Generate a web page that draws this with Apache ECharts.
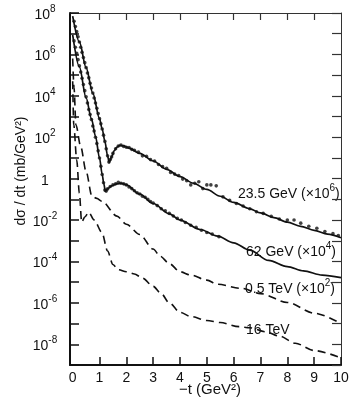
<!DOCTYPE html>
<html>
<head>
<meta charset="utf-8">
<script src="https://cdn.jsdelivr.net/npm/echarts@6/dist/echarts.min.js"></script>
<style>
html,body{margin:0;padding:0;background:#fff;}
#chart{width:353px;height:401px;}
</style>
</head>
<body>
<div id="chart"></div>
<script>
// ---- data (t in GeV^2, dσ/dt in mb/GeV^2 with scale factors) ----
const fit235T = [0,0.25,0.5,0.75,1.0,1.1,1.2,1.3,1.36,1.45,1.55,1.65,1.75,1.9,2.1,2.5,3.0,3.5,4.0,4.5,5.0,5.5,6.0,6.6,7.0,7.5,8.0,8.5,9.0,9.5,10];
const fit235V = [7.1e7,4.0e6,2.3e5,1.35e4,7.9e2,2.5e2,63,12.6,6.0,11.2,22.4,33,40,38,30,16.6,7.1,2.8,1.26,0.60,0.30,0.141,0.071,0.035,0.022,0.0132,0.0079,0.005,0.0032,0.0021,0.0014];

const fit62T = [0,0.25,0.5,0.7,0.85,1.0,1.1,1.16,1.22,1.3,1.45,1.65,1.8,2.0,2.5,3.0,3.6,4.0,4.75,5.4,6.0,6.6,7.3,8.0,8.6,9.3,10];
const fit62V = [8.9e6,2.5e5,7.9e3,7.9e2,1.12e2,10,1.58,0.56,0.245,0.32,0.45,0.56,0.60,0.50,0.178,0.063,0.020,0.010,0.0035,0.00166,7.9e-4,3.5e-4,1.12e-4,5.6e-5,3.5e-5,2.2e-5,1.66e-5];

const tev05T = [0,0.05,0.12,0.3,0.5,0.72,0.9,1.09,1.65,2.0,2.5,3.0,3.26,3.6,4.0,4.4,5.0,5.4,6.3,7.0,8.0,9.0,10];
const tev05V = [6.3e5,2.5e4,4.0e2,35,2.2,0.138,0.112,0.081,0.0155,0.0063,0.0020,4.0e-4,1.8e-4,7.9e-5,3.2e-5,2.2e-5,1.26e-5,7.9e-6,5.0e-6,2.8e-6,1.05e-6,3.2e-7,1.0e-7];

const tev16T = [0,0.04,0.15,0.25,0.335,0.45,0.6,0.8,1.09,1.3,1.5,1.7,2.0,2.3,2.6,3.0,3.3,3.6,4.0,4.4,5.0,5.5,6.2,6.6,7.2,7.7,8.3,9.0,10];
const tev16V = [5.0e4,4.0e2,7.9,0.2,0.0079,0.0141,0.024,0.010,0.0025,3.2e-4,7.1e-5,4.0e-5,3.2e-5,2.5e-5,1.58e-5,6.3e-6,2.8e-6,1.0e-6,3.5e-7,2.2e-7,1.41e-7,1.12e-7,7.1e-8,6.3e-8,4.0e-8,2.5e-8,1.12e-8,5.0e-9,2.2e-9];

const dots235T = [0.05,0.1,0.15,0.2,0.25,0.3,0.35,0.4,0.45,0.5,0.55,0.6,0.65,0.7,0.75,0.8,0.85,0.9,0.95,1.0,1.05,1.1,1.15,1.2,1.25,1.3,1.35,1.4,1.45,1.5,1.6,1.7,1.8,1.9,2.0,2.1,2.2,2.3,2.45,2.6,2.75,2.9,3.05,3.2,3.35,3.5,3.65,3.8,3.95,4.1,4.25,4.4,4.55,4.7,4.85,5.0,5.15,5.35,5.6,5.85,6.1,6.35,6.6,6.85,7.1,7.4,7.7,8.0,8.25,8.5,8.8,9.1,9.4,9.7,9.9];
const dots235V = [4.0e7,2.2e7,1.26e7,7.1e6,4.0e6,2.2e6,1.26e6,7.1e5,4.0e5,2.3e5,1.26e5,7.4e4,4.0e4,2.4e4,1.35e4,7.9e3,4.5e3,2.5e3,1.41e3,7.9e2,4.5e2,2.5e2,1.26e2,63,28,12.6,6.3,8.3,11.2,16.6,28,38,42,36,33,32,26,23.4,19,12.6,12,8.3,7.1,4.8,3.8,3.16,2.0,1.66,1.41,0.95,0.79,0.5,0.6,0.71,0.33,0.5,0.5,0.45,0.132,0.089,0.063,0.048,0.035,0.025,0.021,0.0151,0.0112,0.010,0.010,0.0071,0.005,0.004,0.0028,0.0022,0.0018];

const dots62T = [0.05,0.1,0.15,0.2,0.25,0.3,0.35,0.4,0.45,0.5,0.55,0.6,0.65,0.7,0.75,0.8,0.85,0.9,0.95,1.0,1.05,1.1,1.15,1.2,1.25,1.3,1.4,1.5,1.6,1.7,1.8,1.9,2.0,2.1,2.2,2.3,2.4,2.5,2.6,2.7,2.8,2.9,3.0,3.15,3.3,3.45,3.6,3.75,3.9,4.05,4.2,4.4,4.6,4.8,5.0,5.2,5.45];
const dots62V = [4.5e6,2.2e6,1.12e6,5.6e5,2.8e5,1.41e5,7.1e4,3.5e4,1.78e4,8.9e3,4.5e3,2.2e3,1.26e3,7.1e2,3.5e2,2.0e2,1.0e2,50,22,10,4.0,1.58,0.63,0.28,0.25,0.32,0.42,0.5,0.56,0.66,0.6,0.56,0.5,0.4,0.33,0.26,0.21,0.18,0.141,0.126,0.10,0.079,0.066,0.05,0.035,0.028,0.021,0.0158,0.012,0.010,0.0076,0.0056,0.0045,0.0032,0.0025,0.0021,0.00158];

const xTicks = [0,1,2,3,4,5,6,7,8,9,10];
const yTickDecades = [1e-9,1e-8,1e-7,1e-6,1e-5,1e-4,1e-3,1e-2,1e-1,1,1e1,1e2,1e3,1e4,1e5,1e6,1e7,1e8];
const yLabelValues = [1e-8,1e-6,1e-4,1e-2,1,1e2,1e4,1e6,1e8];

const curveLabels = [
  {main: '23.5 GeV (×10', sup: '6', x: 238, y: 192},
  {main: '62 GeV (×10', sup: '4', x: 246, y: 250},
  {main: '0.5 TeV (×10', sup: '2', x: 245, y: 287},
  {main: '16 TeV', sup: '', x: 246, y: 328}
];

// ---- build ----
const zip = (a, b) => a.slice(0, Math.min(a.length, b.length)).map((t, i) => [t, b[i]]);
const FONT = '"Liberation Sans", Arial, Helvetica, sans-serif';
const INK = '#111';

const chart = echarts.init(document.getElementById('chart'), null, {renderer: 'canvas'});

function yFmt(v) {
  const e = Math.round(Math.log10(v));
  if (e === 0) return '{b|1}';
  return '{b|10}{s|' + e + '}';
}

const lineBase = {type: 'line', showSymbol: false, symbol: 'none', smooth: 0.3, smoothMonotone: 'x', silent: true, z: 3};

const option = {
  animation: false,
  backgroundColor: '#fff',
  grid: {left: 70, right: 12, top: 13, bottom: 36},
  xAxis: [
    {
      type: 'value', min: -0.1, max: 10, position: 'bottom',
      axisLine: {show: true, onZero: false, lineStyle: {color: INK, width: 2}},
      axisTick: {show: true, inside: true, length: 8, customValues: xTicks.slice(1), lineStyle: {color: INK, width: 1.5}},
      axisLabel: {show: true, customValues: xTicks, fontSize: 14, color: INK, fontFamily: FONT, margin: 6},
      splitLine: {show: false}
    },
    {
      type: 'value', min: -0.1, max: 10, position: 'top',
      axisLine: {show: true, onZero: false, lineStyle: {color: '#333', width: 1}},
      axisTick: {show: true, inside: true, length: 7, customValues: xTicks.slice(1, 10), lineStyle: {color: '#333', width: 1.2}},
      axisLabel: {show: false},
      splitLine: {show: false}
    }
  ],
  yAxis: [
    {
      type: 'log', logBase: 10, min: 1e-9, max: 1e8, position: 'left',
      axisLine: {show: true, onZero: false, lineStyle: {color: INK, width: 2}},
      axisTick: {show: true, inside: true, length: 9, customValues: yTickDecades, lineStyle: {color: INK, width: 1.5}},
      axisLabel: {
        show: true, customValues: yLabelValues, formatter: yFmt, align: 'center', margin: 25,
        rich: {
          b: {fontSize: 14, fontFamily: FONT, color: INK, lineHeight: 18, verticalAlign: 'bottom'},
          s: {fontSize: 10, fontFamily: FONT, color: INK, lineHeight: 10, verticalAlign: 'top'}
        }
      },
      splitLine: {show: false}
    },
    {
      type: 'log', logBase: 10, min: 1e-9, max: 1e8, position: 'right',
      axisLine: {show: true, onZero: false, lineStyle: {color: '#333', width: 1}},
      axisTick: {show: true, inside: true, length: 9, customValues: yTickDecades, lineStyle: {color: '#333', width: 1.2}},
      axisLabel: {show: false},
      splitLine: {show: false}
    }
  ],
  series: [
    Object.assign({}, lineBase, {name: '23.5 GeV fit', data: zip(fit235T, fit235V), lineStyle: {color: INK, width: 1.7}}),
    Object.assign({}, lineBase, {name: '62 GeV fit', data: zip(fit62T, fit62V), lineStyle: {color: INK, width: 1.7}}),
    Object.assign({}, lineBase, {name: '0.5 TeV', data: zip(tev05T, tev05V), lineStyle: {color: INK, width: 1.6, type: [8, 5]}}),
    Object.assign({}, lineBase, {name: '16 TeV', data: zip(tev16T, tev16V), lineStyle: {color: INK, width: 1.6, type: [8, 5]}}),
    {type: 'scatter', name: '23.5 GeV data', data: zip(dots235T, dots235V), symbol: 'circle', symbolSize: 3.6, itemStyle: {color: INK}, silent: true, z: 4},
    {type: 'scatter', name: '62 GeV data', data: zip(dots62T, dots62V), symbol: 'circle', symbolSize: 3.6, itemStyle: {color: INK}, silent: true, z: 4}
  ],
  graphic: [
    {type: 'text', x: 21, y: 171, rotation: Math.PI / 2,
     style: {text: 'dσ / dt (mb/GeV²)', font: '14px ' + FONT, fill: INK, align: 'center', verticalAlign: 'middle'}},
    {type: 'text', x: 210, y: 390,
     style: {text: '−t (GeV²)', font: '15px ' + FONT, fill: INK, align: 'center', verticalAlign: 'middle'}}
  ].concat(curveLabels.map(l => ({
    type: 'text', x: l.x, y: l.y,
    style: {
      text: l.sup ? '{n|' + l.main + '}{s|' + l.sup + '}{n|)}' : '{n|' + l.main + '}',
      align: 'left', verticalAlign: 'middle',
      rich: {
        n: {fontSize: 14, fontFamily: FONT, fill: INK, color: INK, lineHeight: 18, verticalAlign: 'bottom'},
        s: {fontSize: 10, fontFamily: FONT, fill: INK, color: INK, lineHeight: 10, verticalAlign: 'top'}
      }
    }
  })))
};

chart.setOption(option);
</script>
</body>
</html>
